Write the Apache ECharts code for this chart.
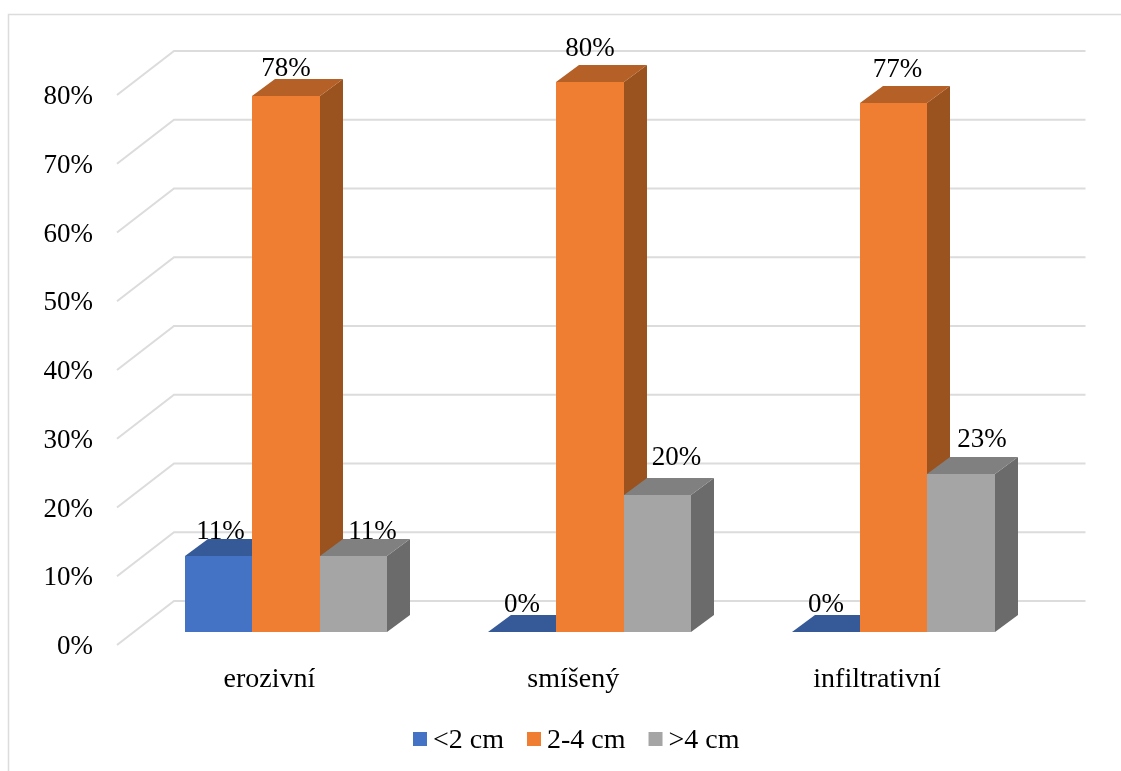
<!DOCTYPE html>
<html>
<head>
<meta charset="utf-8">
<style>
  html, body { margin: 0; padding: 0; background: #fff; }
  #chart { width: 1121px; height: 771px; }
</style>
<script src="https://cdn.jsdelivr.net/npm/echarts@6/dist/echarts.min.js"></script>
</head>
<body>
<div id="chart"></div>
<script>
// Tumour size share by growth type
const categories = ['erozivní', 'smíšený', 'infiltrativní'];
const under2cm = [11, 0, 0];
const from2to4cm = [78, 80, 77];
const over4cm = [11, 20, 23];
const yTicks = [0, 10, 20, 30, 40, 50, 60, 70, 80];

// Extruded look of the bars and the back wall
const BAR_DEPTH = [23, -17];
const WALL_DEPTH = [40, -31];
const FRONT_LIP = [-17, 13];
const SERIF = '"Liberation Serif", "Times New Roman", serif';

// Hand placement of the value labels relative to each bar's front top centre
const underNudge = [[2, -24], [0, -27], [0, -27]];
const midNudge = [[0, -27], [0, -33], [4, -33]];
const overNudge = [[19, -24], [19, -37], [21, -34]];

function barRenderer(slot, front, top, side, nudges) {
  return function (params, api) {
    const cat = api.value(0);
    const val = api.value(1);
    const base = api.coord([cat, 0]);
    const head = api.coord([cat, val]);
    const w = api.size([1, 0])[0] * 0.2222;
    // Whole pixels keep the faces of a bar from showing seams
    const x0 = Math.round(base[0] + (slot - 0.5) * w);
    const x1 = Math.round(base[0] + (slot + 0.5) * w);
    const y0 = Math.round(base[1]);
    const y1 = Math.round(head[1]);
    const dx = BAR_DEPTH[0];
    const dy = BAR_DEPTH[1];
    const nudge = nudges[params.dataIndex];
    const kids = [
      { type: 'polygon', shape: { points: [[x1, y0], [x1 + dx, y0 + dy], [x1 + dx, y1 + dy], [x1, y1]] }, style: { fill: side } },
      { type: 'polygon', shape: { points: [[x0, y1], [x0 + dx, y1 + dy], [x1 + dx, y1 + dy], [x1, y1]] }, style: { fill: top } }
    ];
    if (val > 0) {
      kids.push({ type: 'rect', shape: { x: x0, y: y1, width: x1 - x0, height: y0 - y1 }, style: { fill: front } });
    }
    kids.push({
      type: 'text',
      z2: 10,
      style: {
        x: (x0 + x1) / 2 + nudge[0],
        y: y1 + nudge[1],
        text: val + '%',
        fill: '#000',
        font: '27px ' + SERIF,
        align: 'center',
        verticalAlign: 'middle'
      }
    });
    return { type: 'group', children: kids };
  };
}

function barSeries(name, values, slot, front, top, side, nudges, z) {
  return {
    name: name,
    type: 'custom',
    z: z,
    clip: false,
    itemStyle: { color: front },
    encode: { x: 0, y: 1 },
    data: values.map((v, i) => [i, v]),
    renderItem: barRenderer(slot, front, top, side, nudges)
  };
}

// Gridlines sit on the back wall and fold forward along the side wall
function wallRenderer(params, api) {
  const y = api.coord([0, api.value(0)])[1];
  const cs = params.coordSys;
  return {
    type: 'polyline',
    shape: {
      points: [
        [cs.x + FRONT_LIP[0], y + FRONT_LIP[1]],
        [cs.x + WALL_DEPTH[0], y + WALL_DEPTH[1]],
        [cs.x + cs.width + WALL_DEPTH[0], y + WALL_DEPTH[1]]
      ]
    },
    style: { stroke: '#dcdcdc', lineWidth: 2, fill: null }
  };
}

const chart = echarts.init(document.getElementById('chart'), null, { renderer: 'canvas' });
chart.setOption({
  animation: false,
  backgroundColor: '#fff',
  graphic: [{
    type: 'polyline',
    silent: true,
    shape: { points: [[8.5, 771], [8.5, 14.5], [1121, 14.5]] },
    style: { stroke: '#dcdcdc', lineWidth: 1.5, fill: null }
  }],
  grid: { left: 134, right: 75.5, top: 82, bottom: 139 },
  legend: {
    data: ['<2 cm', '2-4 cm', '>4 cm'],
    left: 413,
    top: 727,
    icon: 'rect',
    itemWidth: 14,
    itemHeight: 14,
    itemGap: 23,
    padding: 0,
    selectedMode: false,
    formatter: '{t|{name}}',
    textStyle: {
      rich: {
        t: { fontFamily: SERIF, fontSize: 28, color: '#000', padding: [4, 0, 0, 1] }
      }
    }
  },
  xAxis: {
    type: 'category',
    data: categories,
    axisLine: { show: false },
    axisTick: { show: false },
    splitLine: { show: false },
    axisLabel: {
      interval: 0,
      margin: 34,
      fontFamily: SERIF,
      fontSize: 28,
      color: '#000',
      padding: [0, 33, 0, 0]
    }
  },
  yAxis: {
    type: 'value',
    min: 0,
    max: 80,
    interval: 10,
    axisLine: { show: false },
    axisTick: { show: false },
    splitLine: { show: false },
    axisLabel: {
      margin: 41,
      fontFamily: SERIF,
      fontSize: 27,
      lineHeight: 30,
      verticalAlign: 'top',
      color: '#000',
      formatter: '{value}%'
    }
  },
  series: [
    {
      name: 'wall',
      type: 'custom',
      z: 1,
      clip: false,
      silent: true,
      encode: { y: 0 },
      data: yTicks.map(v => [v]),
      renderItem: wallRenderer
    },
    barSeries('<2 cm', under2cm, -1, '#4472c4', '#355a97', '#2f4f85', underNudge, 2),
    barSeries('2-4 cm', from2to4cm, 0, '#ef7d32', '#b56026', '#9a521f', midNudge, 3),
    barSeries('>4 cm', over4cm, 1, '#a5a5a5', '#808080', '#6b6b6b', overNudge, 4)
  ]
});
</script>
</body>
</html>
